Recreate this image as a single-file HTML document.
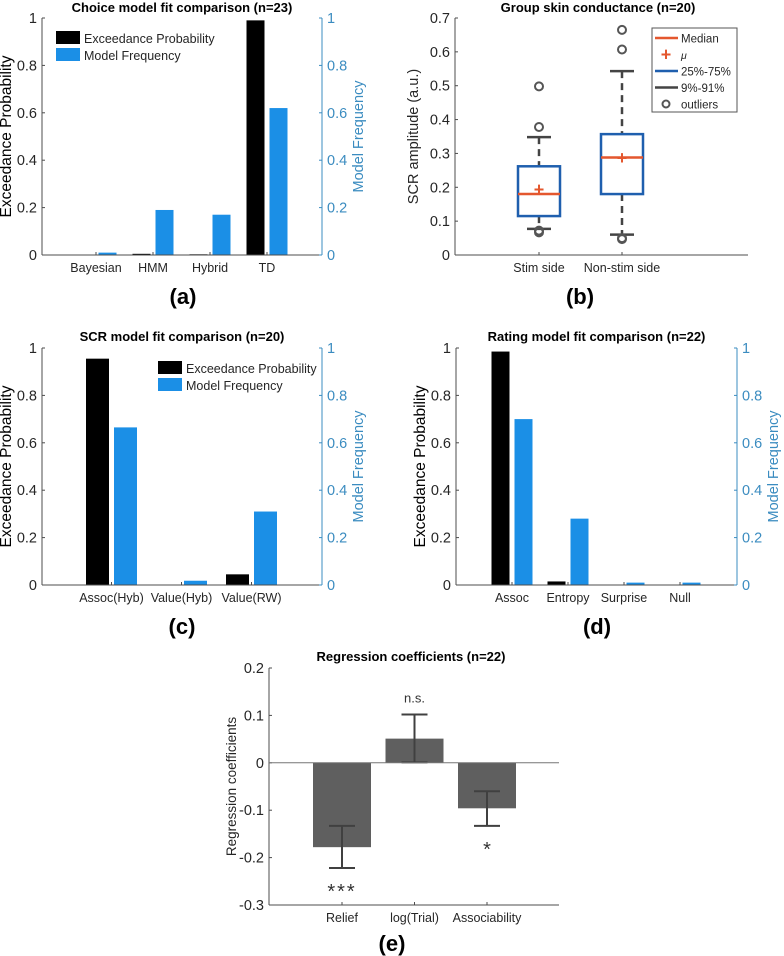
<!DOCTYPE html>
<html><head><meta charset="utf-8"><style>
html,body{margin:0;padding:0;background:#fff}
svg{display:block;font-family:"Liberation Sans",sans-serif}
</style></head><body>
<svg id="fig" width="784" height="956" viewBox="0 0 784 956" xmlns="http://www.w3.org/2000/svg"></svg>
<script>
// Panel a
const aCats = ["Bayesian","HMM","Hybrid","TD"];
const aExc = [0, 0.005, 0.003, 0.99];
const aFreq = [0.01, 0.19, 0.17, 0.62];
// Panel c
const cCats = ["Assoc(Hyb)","Value(Hyb)","Value(RW)"];
const cExc = [0.955, 0, 0.045];
const cFreq = [0.665, 0.018, 0.31];
// Panel d
const dCats = ["Assoc","Entropy","Surprise","Null"];
const dExc = [0.985, 0.015, 0, 0];
const dFreq = [0.70, 0.28, 0.01, 0.01];
const unitTicks = [0, 0.2, 0.4, 0.6, 0.8, 1];
const unitTickLabels = ["0","0.2","0.4","0.6","0.8","1"];
// Panel b
const bCats = ["Stim side","Non-stim side"];
const bQ1 = [0.115, 0.18];
const bMedian = [0.18, 0.288];
const bQ3 = [0.262, 0.357];
const bMean = [0.193, 0.287];
const bWLow = [0.077, 0.06];
const bWHigh = [0.348, 0.543];
const bOutliers = [[0.498, 0.378, 0.072, 0.067], [0.665, 0.607, 0.05, 0.047]];
const bTicks = [0, 0.1, 0.2, 0.3, 0.4, 0.5, 0.6, 0.7];
const bTickLabels = ["0","0.1","0.2","0.3","0.4","0.5","0.6","0.7"];
// Panel e
const eCats = ["Relief","log(Trial)","Associability"];
const eVals = [-0.178, 0.051, -0.096];
const eErrLow = [-0.222, 0.001, -0.133];
const eErrHigh = [-0.133, 0.102, -0.06];
const eSig = ["***","n.s.","*"];
const eTicks = [-0.3, -0.2, -0.1, 0, 0.1, 0.2];
const eTickLabels = ["-0.3","-0.2","-0.1","0","0.1","0.2"];

const NS = "http://www.w3.org/2000/svg";
const svg = document.getElementById("fig");
function mk(tag, attrs, parent, text) {
  const el = document.createElementNS(NS, tag);
  for (const k in attrs) el.setAttribute(k, attrs[k]);
  if (text !== undefined) el.textContent = text;
  (parent || svg).appendChild(el);
  return el;
}
function grp(name) {
  const g = mk("g", {});
  
  
  return g;
}
const AX = "#4d4d4d", RB = "#3b8cc0", BLUE = "#1b8fe6";

function barPanel(id, title, cats, exc, freq, o) {
  const g = grp("panel-" + id);
  const y = v => o.y0 - v * (o.y0 - o.y1);
  const xc = i => o.c0 + i * o.sp;
  const t = mk("text", {x: (o.L + o.R) / 2, y: o.ty, "text-anchor": "middle", "font-size": 13, "font-weight": "bold"}, g, title);
  
  
  cats.forEach((c, i) => {
    const b1 = mk("rect", {x: xc(i) - o.off - o.bw / 2, y: y(exc[i]), width: o.bw, height: o.y0 - y(exc[i]), fill: "#000"}, g);
    
    
    const b2 = mk("rect", {x: xc(i) + o.off - o.bw / 2, y: y(freq[i]), width: o.bw, height: o.y0 - y(freq[i]), fill: BLUE}, g);
    
    
    const l = mk("text", {x: xc(i), y: o.y0 + 17, "text-anchor": "middle", "font-size": 12.5, fill: "#262626"}, g, c);
    
    
    mk("line", {x1: xc(i), x2: xc(i), y1: o.y0, y2: o.y0 - 3, stroke: AX}, g);
  });
  mk("line", {x1: o.L, x2: o.R, y1: o.y0, y2: o.y0, stroke: AX}, g);
  mk("line", {x1: o.L, x2: o.L, y1: o.y0, y2: o.y1, stroke: AX}, g);
  mk("line", {x1: o.R, x2: o.R, y1: o.y0, y2: o.y1, stroke: RB}, g);
  unitTicks.forEach((v, i) => {
    mk("line", {x1: o.L, x2: o.L + 3, y1: y(v), y2: y(v), stroke: AX}, g);
    mk("line", {x1: o.R, x2: o.R - 3, y1: y(v), y2: y(v), stroke: RB}, g);
    const tl = mk("text", {x: o.L - 5, y: y(v) + 5, "text-anchor": "end", "font-size": 14.5, fill: "#262626"}, g, unitTickLabels[i]);
    
    
    const tr = mk("text", {x: o.R + 5, y: y(v) + 5, "font-size": 14.5, fill: RB}, g, unitTickLabels[i]);
    
    
  });
  const yl = mk("text", {transform: `translate(${o.L - 31},${(o.y0 + o.y1) / 2}) rotate(-90)`, "text-anchor": "middle", "font-size": 15.5, fill: "#000"}, g, "Exceedance Probability");
  
  
  const yr = mk("text", {transform: `translate(${o.R + 41},${(o.y0 + o.y1) / 2}) rotate(-90)`, "text-anchor": "middle", "font-size": 14.5, fill: RB}, g, "Model Frequency");
  
  
  if (o.lx) {
    const lg = grp("legend");
    g.appendChild(lg);
    mk("rect", {x: o.lx, y: o.ly - 7, width: 24, height: 13, fill: "#000"}, lg);
    mk("text", {x: o.lx + 28, y: o.ly + 5, "font-size": 12.5, fill: "#262626"}, lg, "Exceedance Probability");
    mk("rect", {x: o.lx, y: o.ly + 10, width: 24, height: 13, fill: BLUE}, lg);
    mk("text", {x: o.lx + 28, y: o.ly + 22, "font-size": 12.5, fill: "#262626"}, lg, "Model Frequency");
  }
  const pl = mk("text", {x: o.plx, y: o.ply, "text-anchor": "middle", "font-size": 22, "font-weight": "bold"}, g, "(" + id + ")");
  
  
}

barPanel("a", "Choice model fit comparison (n=23)", aCats, aExc, aFreq,
  {L: 42, R: 322, y0: 255, y1: 18, c0: 96, sp: 57, bw: 18, off: 11.5, ty: 12, lx: 56, ly: 38, plx: 183, ply: 304});
barPanel("c", "SCR model fit comparison (n=20)", cCats, cExc, cFreq,
  {L: 42, R: 322, y0: 585, y1: 348, c0: 111.5, sp: 70, bw: 23, off: 14, ty: 341, lx: 158, ly: 368, plx: 182, ply: 634});
barPanel("d", "Rating model fit comparison (n=22)", dCats, dExc, dFreq,
  {L: 456, R: 737, y0: 585, y1: 348, c0: 512, sp: 56, bw: 18, off: 11.5, ty: 341, plx: 597, ply: 634});

// Panel b
(function () {
  const g = grp("panel-b");
  const L = 455, R = 748, y0 = 255, y1 = 18;
  const y = v => y0 - v / 0.7 * (y0 - y1);
  const xc = i => 539 + i * 83;
  mk("text", {x: 598, y: 12, "text-anchor": "middle", "font-size": 13, "font-weight": "bold"}, g, "Group skin conductance (n=20)");
  mk("line", {x1: L, x2: R, y1: y0, y2: y0, stroke: AX}, g);
  mk("line", {x1: L, x2: L, y1: y0, y2: y1, stroke: AX}, g);
  bTicks.forEach((v, i) => {
    mk("line", {x1: L, x2: L + 3, y1: y(v), y2: y(v), stroke: AX}, g);
    mk("text", {x: L - 5, y: y(v) + 5, "text-anchor": "end", "font-size": 14.5, fill: "#262626"}, g, bTickLabels[i]);
  });
  mk("text", {transform: `translate(${L - 37},${(y0 + y1) / 2}) rotate(-90)`, "text-anchor": "middle", "font-size": 14.5, fill: "#262626"}, g, "SCR amplitude (a.u.)");
  bCats.forEach((c, i) => {
    const x = xc(i);
    const bx = grp("box-" + i);
    g.appendChild(bx);
    mk("line", {x1: x, x2: x, y1: y(bWHigh[i]), y2: y(bQ3[i]), stroke: "#444", "stroke-width": 2.5, "stroke-dasharray": "7,5"}, bx);
    mk("line", {x1: x, x2: x, y1: y(bQ1[i]), y2: y(bWLow[i]), stroke: "#444", "stroke-width": 2.5, "stroke-dasharray": "7,5"}, bx);
    mk("line", {x1: x - 12, x2: x + 12, y1: y(bWHigh[i]), y2: y(bWHigh[i]), stroke: "#444", "stroke-width": 2.5}, bx);
    mk("line", {x1: x - 12, x2: x + 12, y1: y(bWLow[i]), y2: y(bWLow[i]), stroke: "#444", "stroke-width": 2.5}, bx);
    mk("rect", {x: x - 21, y: y(bQ3[i]), width: 42, height: y(bQ1[i]) - y(bQ3[i]), fill: "none", stroke: "#1f5fae", "stroke-width": 2.5}, bx);
    mk("line", {x1: x - 21, x2: x + 21, y1: y(bMedian[i]), y2: y(bMedian[i]), stroke: "#e4572e", "stroke-width": 2.5}, bx);
    mk("text", {x: x, y: y(bMean[i]) + 6, "text-anchor": "middle", "font-size": 18, fill: "#e4572e", "font-weight": "bold"}, bx, "+");
    bOutliers[i].forEach(v => mk("circle", {cx: x, cy: y(v), r: 4, fill: "none", stroke: "#555", "stroke-width": 2}, bx));
    mk("line", {x1: x, x2: x, y1: y0, y2: y0 - 3, stroke: AX}, g);
    mk("text", {x: x, y: y0 + 17, "text-anchor": "middle", "font-size": 12.5, fill: "#262626"}, g, c);
  });
  const lg = grp("legend");
  g.appendChild(lg);
  mk("rect", {x: 652, y: 28, width: 85, height: 84, fill: "#fff", stroke: "#555"}, lg);
  const items = [["Median", "line", "#e4572e"], ["\u03bc", "plus", "#e4572e"], ["25%-75%", "line", "#1f5fae"], ["9%-91%", "line", "#444"], ["outliers", "circ", "#555"]];
  items.forEach((it, k) => {
    const yy = 38 + k * 16.5;
    if (it[1] === "line") mk("line", {x1: 655, x2: 678, y1: yy, y2: yy, stroke: it[2], "stroke-width": 2.5}, lg);
    if (it[1] === "plus") mk("text", {x: 666, y: yy + 6, "text-anchor": "middle", "font-size": 18, "font-weight": "bold", fill: it[2]}, lg, "+");
    if (it[1] === "circ") mk("circle", {cx: 666, cy: yy, r: 3.5, fill: "none", stroke: it[2], "stroke-width": 2}, lg);
    mk("text", {x: 681, y: yy + 4.5, "font-size": it[1] === "plus" ? 10.5 : 11.5, "font-style": it[1] === "plus" ? "italic" : "normal", fill: "#262626"}, lg, it[0]);
  });
  mk("text", {x: 580, y: 304, "text-anchor": "middle", "font-size": 22, "font-weight": "bold"}, g, "(b)");
})();

// Panel e
(function () {
  const g = grp("panel-e");
  const L = 269, R = 559, yTop = 668, yBot = 905;
  const y = v => yBot - (v + 0.3) / 0.5 * (yBot - yTop);
  const xc = i => 342 + i * 72.5;
  mk("text", {x: 411, y: 661, "text-anchor": "middle", "font-size": 13, "font-weight": "bold"}, g, "Regression coefficients (n=22)");
  mk("line", {x1: L, x2: R, y1: yBot, y2: yBot, stroke: AX}, g);
  mk("line", {x1: L, x2: L, y1: yBot, y2: yTop, stroke: AX}, g);
  eTicks.forEach((v, i) => {
    mk("line", {x1: L, x2: L + 3, y1: y(v), y2: y(v), stroke: AX}, g);
    mk("text", {x: L - 5, y: y(v) + 5, "text-anchor": "end", "font-size": 14.5, fill: "#262626"}, g, eTickLabels[i]);
  });
  mk("text", {transform: `translate(${L - 33},${(yTop + yBot) / 2}) rotate(-90)`, "text-anchor": "middle", "font-size": 13.5, fill: "#262626"}, g, "Regression coefficients");
  eCats.forEach((c, i) => {
    const x = xc(i);
    const top = Math.min(y(0), y(eVals[i])), h = Math.abs(y(0) - y(eVals[i]));
    const b = mk("rect", {x: x - 29, y: top, width: 58, height: h, fill: "#5f5f5f"}, g);
    
    
    mk("line", {x1: x, x2: x, y1: y(eErrLow[i]), y2: y(eErrHigh[i]), stroke: "#404040", "stroke-width": 2}, g);
    mk("line", {x1: x - 13, x2: x + 13, y1: y(eErrLow[i]), y2: y(eErrLow[i]), stroke: "#404040", "stroke-width": 2}, g);
    mk("line", {x1: x - 13, x2: x + 13, y1: y(eErrHigh[i]), y2: y(eErrHigh[i]), stroke: "#404040", "stroke-width": 2}, g);
    const sy = eVals[i] < 0 ? y(eErrLow[i]) + 30 : y(eErrHigh[i]) - 12;
    mk("text", {x: x, y: sy, "text-anchor": "middle", "font-size": eSig[i] === "n.s." ? 13 : 20, fill: "#333", "letter-spacing": eSig[i] === "***" ? 2 : 0}, g, eSig[i]);
    mk("line", {x1: x, x2: x, y1: yBot, y2: yBot - 3, stroke: AX}, g);
    mk("text", {x: x, y: yBot + 17, "text-anchor": "middle", "font-size": 12.5, fill: "#262626"}, g, c);
  });
  mk("line", {x1: L, x2: R, y1: y(0), y2: y(0), stroke: "#777"}, g);
  mk("text", {x: 392, y: 951, "text-anchor": "middle", "font-size": 22, "font-weight": "bold"}, g, "(e)");
})();
</script>
</body></html>
